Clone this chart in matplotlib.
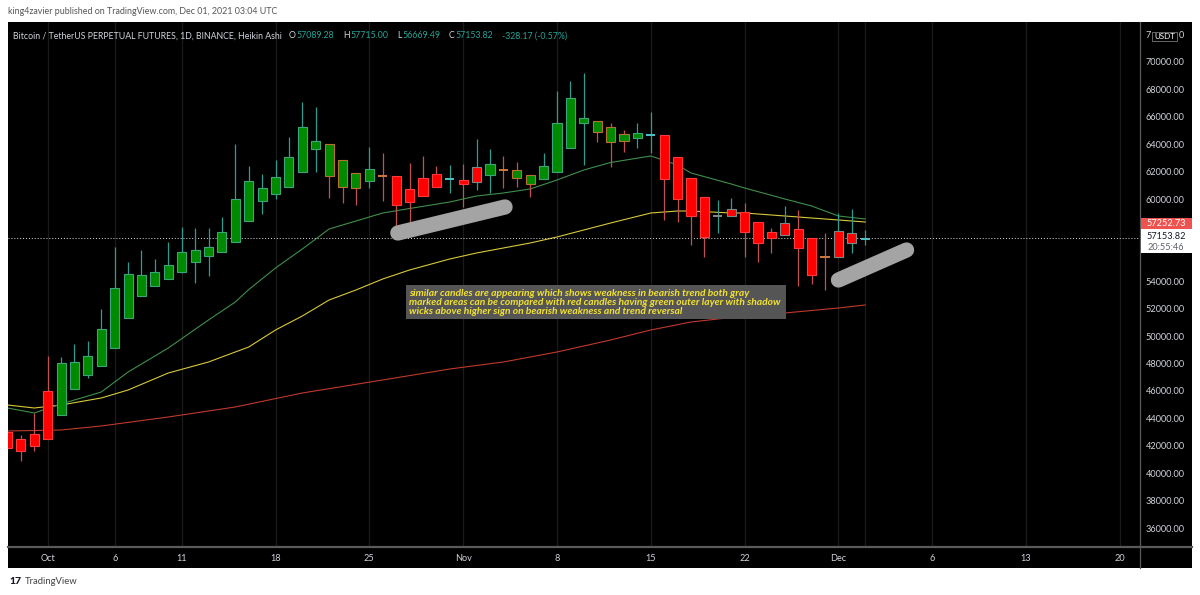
import matplotlib
matplotlib.use("Agg")
import matplotlib.pyplot as plt
from matplotlib.patches import Rectangle
from matplotlib.lines import Line2D
import pandas as pd

# ---------------- data (Heikin Ashi daily candles) ----------------
dates = pd.date_range("2021-09-28", "2021-12-01", freq="D")
opens = [43027, 42494, 42859, 45996, 44245, 46142, 47164, 47820, 49133, 51322,
         52927, 53657, 54168, 54678, 55408, 55846, 56138, 56867, 58399, 59859,
         60369, 60880, 61974, 63652, 61683, 60880, 60807, 61318, 61700, 61683,
         60734, 61537, 61828, 61450, 61391, 62339, 61756, 62140, 61537, 61099,
         61464, 61974, 63725, 65549, 64893, 64163, 64236, 64455, 64660, 64674,
         63069, 61537, 60150, 58780, 59275, 59056, 58326, 57597, 58253, 57816,
         57159, 55790, 57670, 57524, 57089.28]
highs = [43297, 42786, 44391, 48550, 48477, 49425, 49644, 51979, 56502, 55408,
         56284, 55627, 56867, 57962, 57889, 57889, 58691, 64017, 62412, 61828,
         62850, 64528, 67082, 66717, 64017, 62850, 61901, 63798, 63361, 61683,
         62631, 63142, 62412, 62485, 62558, 64382, 63652, 63142, 62704, 61756,
         63361, 67884, 68614, 69197, 65695, 65549, 65039, 65549, 66352, 64674,
         63069, 61537, 60150, 59932, 60077, 59713, 58326, 57889, 59494, 59202,
         57159, 57524, 58983, 59275, 57715.00]
lows = [41546, 40889, 41619, 42494, 44245, 46142, 46945, 47820, 49133, 51322,
        52927, 53657, 54168, 54605, 53876, 54387, 56138, 56867, 58399, 58910,
        60004, 60880, 61974, 61974, 60077, 59713, 59567, 60807, 59859, 57524,
        57524, 60223, 60880, 60442, 59421, 60661, 60442, 60807, 60880, 60150,
        61464, 61974, 63725, 62485, 64163, 62339, 63434, 63725, 63361, 58472,
        58326, 56648, 55773, 57524, 58764, 55773, 55408, 56065, 57378, 53657,
        53803, 53365, 55773, 56065, 56669.49]
closes = [41837, 41619, 41983, 42494, 48039, 48112, 48550, 50520, 53511, 54532,
          54460, 54678, 55189, 56138, 56284, 56502, 57597, 60004, 61318, 60807,
          61610, 63069, 65258, 64236, 64017, 62850, 61901, 62193, 61660, 59567,
          59786, 60223, 60880, 61480, 61099, 61245, 62558, 62100, 62120, 61756,
          62412, 65549, 67373, 65914, 65695, 65258, 64747, 64820, 64690, 61464,
          60004, 58764, 57232, 58750, 58764, 57597, 56794, 57159, 57378, 56429,
          54460, 55760, 55773, 56794, 57153.82]
# outline type: G green/teal, O orange, R red, X grey, N neutral
outline = list("RRRRGGGGGGGGGGGGGGGGGGGGOOOGORRRRGRXGOOOGGGGOOOGGRRRRNXRRRXRROXXG")

# moving averages
ma_dates = ["2021-09-28", "2021-09-30", "2021-10-02", "2021-10-05", "2021-10-07",
            "2021-10-10", "2021-10-13", "2021-10-15", "2021-10-16", "2021-10-18",
            "2021-10-20", "2021-10-22", "2021-10-24", "2021-10-26", "2021-10-28",
            "2021-10-31", "2021-11-02", "2021-11-04", "2021-11-06", "2021-11-08",
            "2021-11-10", "2021-11-12", "2021-11-15", "2021-11-17", "2021-11-18",
            "2021-11-21", "2021-11-22", "2021-11-25", "2021-11-27", "2021-11-29",
            "2021-12-01"]
ma_fast = [44756, 44391, 45048, 45923, 47382, 49133, 51176, 52490, 53394, 54970,
           56356, 57816, 58399, 58983, 59311, 59786, 60223, 60442, 60734, 61391,
           62120, 62668, 63142, 62485, 61901, 61099, 60807, 60004, 59494, 58764,
           58545]
ma_mid = [44975, 44756, 44975, 45485, 46069, 47309, 48112, 48842, 49206, 50447,
          51468, 52636, 53365, 54168, 54824, 55627, 56065, 56429, 56794, 57232,
          57743, 58253, 58983, 59129, 59129, 58983, 58983, 58764, 58618, 58472,
          58326]
slow_dates = ["2021-09-28", "2021-09-30", "2021-10-02", "2021-10-05", "2021-10-10",
              "2021-10-15", "2021-10-20", "2021-10-26", "2021-10-31", "2021-11-04",
              "2021-11-08", "2021-11-12", "2021-11-15", "2021-11-18", "2021-11-22",
              "2021-11-25", "2021-11-29", "2021-12-01"]
ma_slow = [43078, 43114, 43151, 43443, 44099, 44829, 45850, 46799, 47601, 48112,
           48842, 49717, 50447, 51030, 51468, 51687, 52052, 52271]

tick_dates = ["2021-10-01", "2021-10-06", "2021-10-11", "2021-10-18", "2021-10-25",
              "2021-11-01", "2021-11-08", "2021-11-15", "2021-11-22", "2021-11-29",
              "2021-12-06", "2021-12-13", "2021-12-20"]
tick_labels = ["Oct", "6", "11", "18", "25", "Nov", "8", "15", "22", "Dec", "6", "13", "20"]
last_bar_date = "2021-12-01"
# price labels visible on the scale (58000 / 56000 sit under the price boxes)
price_ticks = [36000, 38000, 40000, 42000, 44000, 46000, 48000, 50000, 52000,
               54000, 60000, 62000, 64000, 66000, 68000, 70000]

last_price = 57153.82
prev_close_label = "57252.73"
countdown = "20:55:46"
ohlc_header = [("O", "57089.28"), ("H", "57715.00"), ("L", "56669.49"), ("C", "57153.82")]
change_text = "-328.17 (-0.57%)"

stroke1_dates, stroke1_vals = ["2021-10-27 03:00", "2021-11-04 03:00"], [57524, 59421]
stroke2_dates, stroke2_vals = ["2021-11-29", "2021-12-04 02:00"], [54095, 56284]

note_lines = ["similar candles are appearing which shows weakness in bearish trend both gray",
              "marked areas can be compared with red candles having green outer layer with shadow",
              "wicks above higher sign on bearish weakness and trend reversal"]

# ---------------- figure ----------------
W, H = 1200, 595
fig = plt.figure(figsize=(W / 100, H / 100), dpi=100)
fig.patch.set_facecolor("white")
FONT = ["Lato", "DejaVu Sans"]


def fx(px):
    return px / W


def fy(py):
    return 1 - py / H


origin = pd.Timestamp("2021-10-01")


def dnum(d):
    return (pd.to_datetime(d) - origin) / pd.Timedelta(days=1)


# black chart panel (behind the axes)
fig.patches.append(Rectangle((fx(8), fy(568)), (1192 - 8) / W, (568 - 22) / H,
                             transform=fig.transFigure, facecolor="black",
                             edgecolor="none", zorder=-5))

ax = fig.add_axes([fx(8), fy(547), (1140 - 8) / W, (547 - 22) / H])
ax.set_zorder(1)
ax.set_facecolor("black")
ax.set_xlim(-2.96, 81.5)
ax.set_ylim(34614, 72918)
for s in ax.spines.values():
    s.set_visible(False)

# grid (vertical only)
tx = [dnum(d) for d in tick_dates]
for t in tx + [dnum(last_bar_date)]:
    ax.axvline(t, color="#1b1b1b", lw=0.9, zorder=0)

ax.set_xticks(tx)
ax.set_xticklabels(tick_labels, fontfamily=FONT, fontsize=6.6, color="#d1d4dc")
ax.tick_params(axis="x", length=0, pad=5)
ax.yaxis.tick_right()
ax.set_yticks(price_ticks)
ax.set_yticklabels([f"{v:.2f}" for v in price_ticks], fontfamily=FONT,
                   fontsize=6.6, color="#d1d4dc")
ax.tick_params(axis="y", length=0, pad=4)

# moving averages
ax.plot([dnum(d) for d in slow_dates], ma_slow, color="#c0392b", lw=0.8, zorder=2)
ax.plot([dnum(d) for d in ma_dates], ma_mid, color="#d8c83a", lw=0.8, zorder=2)
ax.plot([dnum(d) for d in ma_dates], ma_fast, color="#3f8f4a", lw=0.8, zorder=2)

# candles
edge_col = {"G": "#3aa57a", "O": "#b9702e", "R": "#ff3a3a", "X": "#7a8787", "N": "#8a8a8a"}
wick_col = {"G": "#2f9c90", "O": "#c25252", "R": "#c25252", "X": "#2f9c90", "N": "#2f9c90"}
doji_col = {"G": "#4cc4c8", "O": "#d07a3c", "R": "#d07a3c", "X": "#8a8a8a", "N": "#8a8a8a"}
xs = [dnum(d) for d in dates]
bw = 0.68
for x, o, h, l, c, k in zip(xs, opens, highs, lows, closes, outline):
    ax.vlines(x, l, h, colors=wick_col[k], lw=0.9, zorder=3)
    if abs(c - o) < 100:
        ax.hlines((o + c) / 2, x - bw / 2, x + bw / 2, colors=doji_col[k], lw=1.4, zorder=4)
    else:
        fill = "#008a00" if c > o else "#ff0000"
        ax.bar(x, abs(c - o), bottom=min(o, c), width=bw, color=fill,
               edgecolor=edge_col[k], linewidth=0.8, zorder=4)

# current price dotted line
ax.axhline(last_price, color="#e0e0e0", lw=0.7, ls=(0, (1, 2)), zorder=2)

# grey highlighter strokes
ax.plot([dnum(d) for d in stroke1_dates], stroke1_vals, color="#a4a4a4", lw=11,
        solid_capstyle="round", zorder=6)
ax.plot([dnum(d) for d in stroke2_dates], stroke2_vals, color="#a4a4a4", lw=11,
        solid_capstyle="round", zorder=6)

# annotation box
fig.patches.append(Rectangle((fx(406), fy(319)), (786 - 406) / W, (319 - 285) / H,
                             transform=fig.transFigure, facecolor="#555555",
                             edgecolor="none", zorder=7))
for i, line in enumerate(note_lines):
    fig.text(fx(409), fy(293.5 + 9.2 * i), line, fontfamily=FONT, fontsize=7.4,
             fontweight="bold", fontstyle="italic", color="#f2e233",
             va="center", ha="left", zorder=8)

# separators
fig.add_artist(Line2D([fx(8), fx(1192)], [fy(547), fy(547)], color="#5a5a5a", lw=1.6, zorder=5))
fig.add_artist(Line2D([fx(1140), fx(1140)], [fy(22), fy(568)], color="#5a5a5a", lw=0.9, zorder=5))

# right-axis price boxes
fig.patches.append(Rectangle((fx(1141), fy(229)), 51 / W, 11 / H, transform=fig.transFigure,
                             facecolor="#ef5350", edgecolor="none", zorder=9))
fig.text(fx(1166), fy(223.5), prev_close_label, fontfamily=FONT, fontsize=6.6,
         color="white", ha="center", va="center", zorder=10)
fig.patches.append(Rectangle((fx(1141), fy(253)), 51 / W, 24 / H, transform=fig.transFigure,
                             facecolor="white", edgecolor="none", zorder=9))
fig.text(fx(1166), fy(237), f"{last_price:.2f}", fontfamily=FONT, fontsize=6.6,
         color="#131722", ha="center", va="center", zorder=10)
fig.text(fx(1166), fy(247.5), countdown, fontfamily=FONT, fontsize=6.6,
         color="#5d606b", ha="center", va="center", zorder=10)
# currency badge covering the 72000.00 label (only its outer digits show)
fig.text(fx(1146), fy(35.5), "7", fontfamily=FONT, fontsize=6.6, color="#d1d4dc",
         ha="left", va="center", zorder=10)
fig.text(fx(1178.5), fy(35.5), "0", fontfamily=FONT, fontsize=6.6, color="#d1d4dc",
         ha="left", va="center", zorder=10)
fig.patches.append(Rectangle((fx(1152), fy(41)), 25 / W, 9 / H, transform=fig.transFigure,
                             facecolor="black", edgecolor="#777777", lw=0.6, zorder=9))
fig.text(fx(1164.5), fy(36.5), "USDT", fontfamily=FONT, fontsize=5.8,
         color="white", ha="center", va="center", zorder=10)

# header texts
fig.text(fx(8), fy(12), "king4zavier published on TradingView.com, Dec 01, 2021 03:04 UTC",
         fontfamily=FONT, fontsize=6.4, color="#555555", va="center", ha="left")
fig.text(fx(13), fy(36), "Bitcoin / TetherUS PERPETUAL FUTURES, 1D, BINANCE, Heikin Ashi",
         fontfamily=FONT, fontsize=6.35, color="#d1d4dc", va="center", ha="left", zorder=10)

renderer = fig.canvas.get_renderer()
cur = 289.0
for lab, val in ohlc_header:
    t1 = fig.text(fx(cur), fy(36), lab, fontfamily=FONT, fontsize=6.35, color="#d1d4dc",
                  va="center", ha="left", zorder=10)
    cur += t1.get_window_extent(renderer).width + 0.5
    t2 = fig.text(fx(cur), fy(36), val, fontfamily=FONT, fontsize=6.35, color="#26a69a",
                  va="center", ha="left", zorder=10)
    cur += t2.get_window_extent(renderer).width + 9
fig.text(fx(cur), fy(36), change_text, fontfamily=FONT, fontsize=6.35,
         color="#26a69a", va="center", ha="left", zorder=10)

# footer logo
fig.text(fx(9), fy(582), "17", fontfamily=FONT, fontsize=7.5, fontweight="black",
         color="#131722", va="center", ha="left")
fig.text(fx(25), fy(582), "TradingView", fontfamily=FONT, fontsize=6.8,
         color="#444444", va="center", ha="left")

fig.savefig("out.png", dpi=100, facecolor="white")
